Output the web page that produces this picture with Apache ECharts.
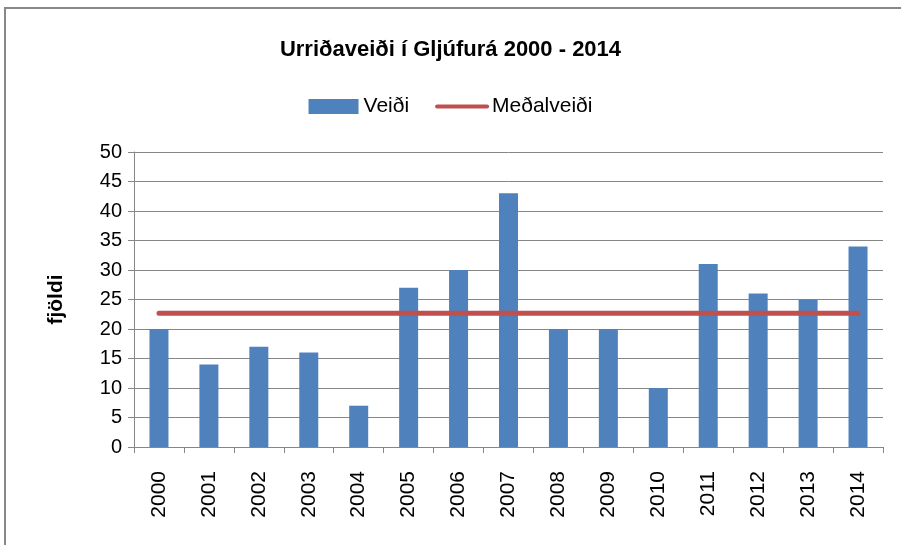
<!DOCTYPE html>
<html>
<head>
<meta charset="utf-8">
<script src="https://cdn.jsdelivr.net/npm/echarts@6/dist/echarts.min.js"></script>
<style>
  html, body { margin: 0; padding: 0; background: #fff; }
  #chart { width: 901px; height: 545px; }
</style>
</head>
<body>
<div id="chart"></div>
<script>
// data
var years = ['2000', '2001', '2002', '2003', '2004', '2005', '2006', '2007',
  '2008', '2009', '2010', '2011', '2012', '2013', '2014'];
var veidi = [20, 14, 17, 16, 7, 27, 30, 43, 20, 20, 10, 31, 26, 25, 34];
var medalveidi = [22.67, 22.67, 22.67, 22.67, 22.67, 22.67, 22.67, 22.67,
  22.67, 22.67, 22.67, 22.67, 22.67, 22.67, 22.67];

var font = 'Liberation Sans';
var myChart = echarts.init(document.getElementById('chart'));

myChart.setOption({
  animation: false,
  backgroundColor: '#fff',
  textStyle: { fontFamily: font },
  graphic: [{
    type: 'rect',
    shape: { x: 5, y: 8, width: 1200, height: 1000 },
    style: { fill: 'none', stroke: '#888888', lineWidth: 2 },
    silent: true
  }],
  title: {
    text: 'Urriðaveiði í Gljúfurá 2000 - 2014',
    left: 'center',
    top: 34,
    textStyle: { fontFamily: font, fontSize: 22, fontWeight: 'bold', color: '#000' }
  },
  legend: {
    top: 91,
    left: 'center',
    itemWidth: 50,
    itemHeight: 15,
    itemGap: 26,
    textStyle: { fontFamily: font, fontSize: 21, color: '#000' },
    data: [
      { name: 'Veiði', icon: 'rect' },
      { name: 'Meðalveiði', itemStyle: { opacity: 0 }, lineStyle: { width: 4, color: '#C0504D' } }
    ]
  },
  grid: { left: 134, right: 18, top: 152, bottom: 98, containLabel: false },
  xAxis: {
    type: 'category',
    data: years,
    axisLine: { lineStyle: { color: '#868686', width: 1 } },
    axisTick: { show: true, length: 6, lineStyle: { color: '#868686' } },
    axisLabel: { rotate: 90, margin: 24, fontSize: 21, color: '#000', fontFamily: font }
  },
  yAxis: {
    type: 'value',
    min: 0,
    max: 50,
    interval: 5,
    name: 'fjöldi',
    nameLocation: 'middle',
    nameGap: 67,
    nameTextStyle: { fontFamily: font, fontSize: 21, fontWeight: 'bold', color: '#000' },
    axisLine: { show: true, lineStyle: { color: '#868686', width: 1 } },
    axisTick: { show: true, inside: false, length: 6, lineStyle: { color: '#868686' } },
    axisLabel: { margin: 12, fontSize: 20, color: '#000', fontFamily: font },
    splitLine: { lineStyle: { color: '#868686', width: 1 } }
  },
  series: [
    {
      name: 'Veiði',
      type: 'bar',
      data: veidi,
      barWidth: 19,
      itemStyle: { color: '#4F81BD' }
    },
    {
      name: 'Meðalveiði',
      type: 'line',
      data: medalveidi,
      symbol: 'none',
      lineStyle: { color: '#C0504D', width: 5, cap: 'round' },
      itemStyle: { color: '#C0504D' }
    }
  ]
});
</script>
</body>
</html>
